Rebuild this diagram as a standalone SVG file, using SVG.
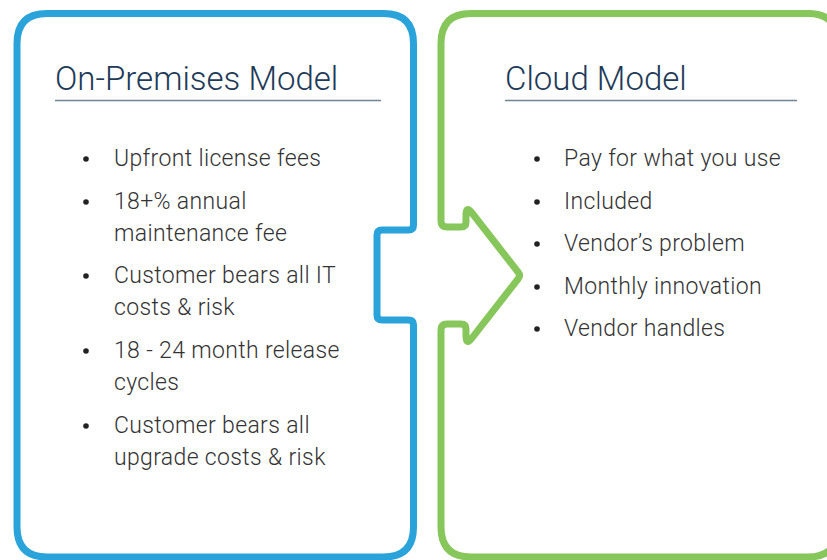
<svg xmlns="http://www.w3.org/2000/svg" width="827" height="560" viewBox="0 0 827 560">
<style>
.frame{fill:none;stroke-width:7;stroke-linejoin:round}
.blue{stroke:#29a3da}
.green{stroke:#86c65a}
.title{font-family:Roboto,"Liberation Sans",sans-serif;font-weight:300;font-size:33px;fill:#1d3a58}
.rule{stroke:#6f8494;stroke-width:1.6}
.item{font-family:Roboto,"Liberation Sans",sans-serif;font-weight:300;font-size:23px;letter-spacing:0.35px;fill:#333}
.dot{fill:#222}
</style>
<rect width="827" height="560" fill="#fff"/>
<g id="connectors"></g>
<g id="on-premises">
<path class="frame blue" d="M47,13.5 H383.5 Q413.5,13.5 413.5,43.5 V225 Q413.5,230 408.5,230 H382 Q377,230 377,235 V315 Q377,320 382,320 H408.5 Q413.5,320 413.5,325 V527 Q413.5,557 383.5,557 H47 Q17,557 17,527 V43.5 Q17,13.5 47,13.5 Z"/>
<text class="title" x="55" y="90">On-Premises Model</text>
<line class="rule" x1="55" y1="100.5" x2="381" y2="100.5"/>
<g class="item">
<circle class="dot" cx="86" cy="159" r="2.8"/>
<text x="114" y="166">Upfront license fees</text>
<circle class="dot" cx="86" cy="202" r="2.8"/>
<text x="114" y="209">18+% annual</text>
<text x="114" y="241">maintenance fee</text>
<circle class="dot" cx="86" cy="276" r="2.8"/>
<text x="114" y="283">Customer bears all IT</text>
<text x="114" y="315">costs &amp; risk</text>
<circle class="dot" cx="86" cy="351" r="2.8"/>
<text x="114" y="358">18 - 24 month release</text>
<text x="114" y="390">cycles</text>
<circle class="dot" cx="86" cy="426" r="2.8"/>
<text x="114" y="433">Customer bears all</text>
<text x="114" y="465">upgrade costs &amp; risk</text>
</g>
</g>
<g id="cloud">
<path class="frame green" d="M441,527 V330 Q441,324 447,324 H461 Q466,324 466,329 V336 Q466,346 472,338 L518,279 Q521,275.5 518,272 L472,213 Q466,205 466,215 V222 Q466,227 461,227 H447 Q441,227 441,221 V43.5 Q441,13.5 471,13.5 H808 Q838,13.5 838,43.5 V527 Q838,557 808,557 H471 Q441,557 441,527 Z"/>
<text class="title" x="505" y="90">Cloud Model</text>
<line class="rule" x1="505" y1="100.5" x2="797" y2="100.5"/>
<g class="item">
<circle class="dot" cx="537" cy="159" r="2.8"/>
<text x="564" y="166">Pay for what you use</text>
<circle class="dot" cx="537" cy="202" r="2.8"/>
<text x="564" y="209">Included</text>
<circle class="dot" cx="537" cy="244" r="2.8"/>
<text x="564" y="251">Vendor’s problem</text>
<circle class="dot" cx="537" cy="287" r="2.8"/>
<text x="564" y="294">Monthly innovation</text>
<circle class="dot" cx="537" cy="329" r="2.8"/>
<text x="564" y="336">Vendor handles</text>
</g>
</g>
</svg>
